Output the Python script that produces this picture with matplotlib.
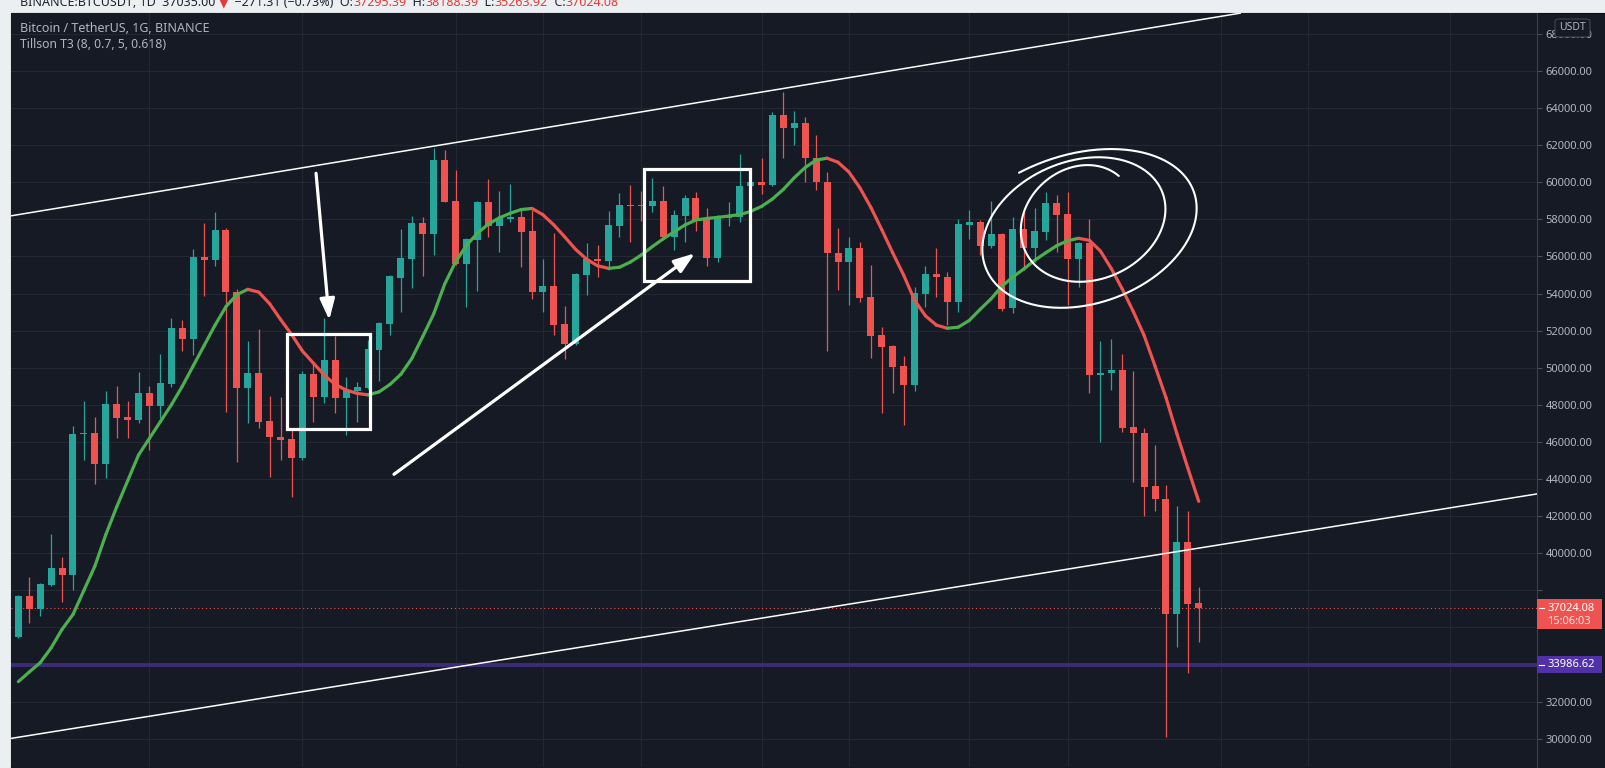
import numpy as np
import matplotlib
matplotlib.use('Agg')
import matplotlib.pyplot as plt
from matplotlib.patches import Rectangle, FancyBboxPatch
from matplotlib.collections import LineCollection
from matplotlib.transforms import IdentityTransform

plt.rcParams['font.family'] = ['Noto Sans', 'DejaVu Sans']

# daily candles, BTC/USDT
opens = [35505, 37698, 36979, 38290, 39225, 38830, 46431, 46467, 44814, 48030,
         47329, 47186, 48659, 47940, 49127, 52127, 51552, 55955, 55811, 57429,
         54104, 48929, 49737, 47132, 46287, 46143, 45119, 49665, 48443, 50420,
         48389, 48748, 48928, 50959, 52360, 54858, 55882, 57823, 57212, 61202,
         58991, 55595, 56889, 58955, 57644, 58003, 58111, 57392, 54104, 54409,
         52361, 51282, 55002, 55865, 55775, 57644, 58776, 58760, 58722, 58991,
         57033, 58183, 59135, 58057, 55936, 58093, 58147, 59782, 59998, 59854,
         63628, 62945, 63178, 61327, 59998, 56170, 55685, 56440, 53834, 51767,
         51192, 50096, 49072, 53978, 55038, 54876, 53564, 57698, 57842, 56566,
         57194, 53241, 57464, 56440, 57338, 58866, 58291, 55847, 56709, 49593,
         49701, 49881, 46790, 46466, 43627, 42908, 36727, 40608, 37302]
highs = [37752, 38740, 38380, 41040, 39818, 46862, 48210, 47329, 48749, 49019,
         48210, 49771, 49019, 50726, 52667, 52577, 56386, 57788, 58417, 57519,
         54230, 51445, 52073, 48479, 48444, 46682, 49845, 50240, 52666, 51713,
         49485, 49252, 51498, 52486, 54984, 57464, 58183, 58111, 61831, 61741,
         60663, 56979, 59009, 60160, 59549, 59908, 58506, 58506, 55847, 57248,
         53331, 55128, 56709, 56619, 58470, 59441, 59854, 59549, 60213, 59800,
         58506, 59315, 59495, 58632, 58237, 58956, 61507, 60050, 61291, 63771,
         64850, 63843, 63538, 62549, 60537, 57554, 57068, 56799, 55541, 52217,
         51228, 50635, 54373, 55487, 56440, 55182, 58003, 58506, 57967, 58992,
         57248, 58111, 58416, 58596, 59494, 59315, 59494, 56799, 58003, 51462,
         51552, 50743, 49827, 46736, 45837, 43681, 42549, 42298, 38200]
lows = [35415, 36224, 36619, 38236, 37392, 38021, 45014, 43735, 44041, 46198,
        46198, 47006, 45569, 47276, 48983, 50906, 50690, 53871, 55488, 47635,
        44940, 47042, 46736, 44131, 45030, 43053, 45029, 47095, 48120, 47544,
        46376, 47095, 48838, 49306, 51767, 53025, 54283, 54948, 56080, 58955,
        55541, 53295, 54140, 57033, 56260, 57877, 55451, 53690, 53026, 51768,
        50455, 51228, 53924, 54912, 55272, 57069, 56799, 57931, 58417, 56979,
        56350, 56799, 57392, 55505, 55721, 57662, 57877, 59750, 59351, 59818,
        61291, 62010, 60000, 59584, 50905, 54193, 53385, 53564, 50546, 47544,
        48623, 46916, 48767, 53259, 53834, 52307, 53026, 56925, 56081, 56440,
        53079, 52936, 55272, 55721, 56889, 56260, 53385, 54373, 48623, 46017,
        48802, 46556, 43861, 42028, 42298, 30100, 34929, 33564, 35235]
closes = [37698, 36979, 38326, 39225, 38830, 46431, 46450, 44814, 48030, 47294,
          47186, 48659, 47940, 49198, 52127, 51552, 55955, 55811, 57429, 54104,
          48929, 49737, 47096, 46287, 46108, 45155, 49665, 48443, 50420, 48389,
          48802, 48946, 50995, 52432, 54948, 55936, 57823, 57212, 61202, 58955,
          55595, 56943, 58955, 57644, 58057, 58111, 57338, 54104, 54409, 52307,
          51282, 55056, 55847, 55775, 57698, 58776, 58740, 58740, 58991, 57033,
          58237, 59135, 57967, 55936, 58093, 58237, 59800, 59998, 59854, 63628,
          62945, 63178, 61327, 59998, 56170, 55685, 56440, 53780, 51731, 51138,
          50060, 49072, 54014, 55038, 54876, 53564, 57751, 57842, 56566, 57194,
          53151, 57482, 56440, 57374, 58866, 58237, 55847, 56709, 49611, 49737,
          49881, 46736, 46466, 43591, 42908, 36727, 40608, 37266, 37024.08]

# Tillson T3 (8, 0.7) read per bar
t3 = [33080, 33600, 34100, 34900, 35900, 36700, 38000, 39300, 41000, 42500,
      43900, 45300, 46200, 47100, 48000, 49000, 50100, 51200, 52300, 53300,
      53950, 54230, 54080, 53450, 52600, 51800, 50900, 50250, 49600, 49100,
      48800, 48620, 48540, 48700, 49100, 49650, 50500, 51680, 52900, 54500,
      55700, 56600, 57250, 57750, 58080, 58330, 58530, 58590, 58250, 57700,
      57050, 56380, 55850, 55500, 55360, 55420, 55700, 56080, 56530, 56950,
      57330, 57700, 57970, 58050, 58110, 58180, 58260, 58430, 58700, 59100,
      59620, 60250, 60800, 61200, 61300, 61080, 60550, 59700, 58650, 57450,
      56200, 55000, 53650, 52800, 52300, 52130, 52190, 52550, 53150, 53720,
      54400, 54900, 55330, 55800, 56200, 56580, 56850, 56980, 56870, 56300,
      55350, 54250, 53050, 51750, 50100, 48400, 46450, 44600, 42800]

last_price = 37024.08
countdown = "15:06:03"
level_price = 33986.62
price_ticks = list(range(30000, 68001, 2000))
period_bars = [12, 26, 40, 48, 57, 68, 76, 87, 96, 110, 118, 131]

title = "Bitcoin / TetherUS, 1G, BINANCE"
indicator = "Tillson T3 (8, 0.7, 5, 0.618)"
header = [("BINANCE:BTCUSDT, 1D  37035.00 ", 'dark'), ("▼", 'red'),
          ("  −271.31 (−0.73%)  O:", 'dark'), ("37295.39", 'red'),
          ("  H:", 'dark'), ("38188.39", 'red'), ("  L:", 'dark'),
          ("35263.92", 'red'), ("  C:", 'dark'), ("37024.08", 'red')]

# user drawings, anchored at (bar, price)
upper_channel = [(-0.6, 58199), (111.8, 69119)]
lower_channel = [(-0.6, 30026), (139.0, 43205)]
box_a = [(24.6, 46684), (32.18, 51822)]
box_b = [(57.25, 54679), (66.94, 60700)]
arrow_down = [(27.24, 60485), (28.45, 52576)]
arrow_up = [(34.37, 44258), (61.9, 56172)]
scribble_center = (97.75, 58180)

W, H, DPI = 1605, 768, 100
BG = '#161a25'
GRID = '#242833'
TXT = '#b2b5be'
GREEN = '#26a69a'
RED = '#ef5350'
T3_UP = '#4caf50'
T3_DN = '#ef5350'
PURPLE_LINE = '#3b2b78'
PURPLE_BOX = '#5131a8'

fig = plt.figure(figsize=(W / DPI, H / DPI), dpi=DPI, facecolor='#eceff2')
fig.add_artist(Rectangle((11 / W, 0), 1 - 11 / W, (H - 12.7) / H,
                         transform=fig.transFigure, facecolor=BG,
                         edgecolor='#0a0c10', lw=0.8, zorder=-5))
ax = fig.add_axes([11 / W, 1 / H, 1526 / W, 754.3 / H])
ax.set_facecolor(BG)
ax.set_xlim(-0.67, 138.95)
ax.set_ylim(28479, 69143)

for s in ['top', 'bottom', 'left']:
    ax.spines[s].set_visible(False)
ax.spines['right'].set_color('#3b3f4a')
ax.spines['right'].set_linewidth(0.8)

# scale labels hidden behind the price badges, as on the chart
tick_labels = ["" if min(abs(v - last_price), abs(v - level_price)) < 1100 else "%.2f" % v
               for v in price_ticks]
ax.yaxis.tick_right()
ax.set_yticks(price_ticks)
ax.set_yticklabels(tick_labels)
ax.set_xticks(period_bars)
ax.tick_params(axis='x', length=0, labelbottom=False)
ax.tick_params(axis='y', length=3.6, width=0.8, color='#4a4e58',
               labelcolor=TXT, labelsize=8, pad=2.6)
ax.grid(True, color=GRID, lw=0.8, zorder=0)
ax.set_axisbelow(True)

# horizontal levels
ax.axhline(level_price, color=PURPLE_LINE, lw=2.8, zorder=2)
ax.axhline(last_price, color=RED, lw=0.8, ls=(0, (1, 2.5)), zorder=2)

# candles
idx = np.arange(len(opens))
o = np.array(opens, float)
c = np.array(closes, float)
up = c >= o
cols = np.where(up, GREEN, RED)
ax.vlines(idx, lows, highs, colors=cols, lw=0.9, zorder=3)
body_lo = np.minimum(o, c)
body_h = np.maximum(np.abs(c - o), 60)
ax.bar(idx, body_h, bottom=body_lo, width=0.64, color=cols, lw=0, zorder=4)

# Tillson T3 coloured by slope
t3a = np.array(t3, float)
pts = np.column_stack([idx, t3a])
segs = np.stack([pts[:-1], pts[1:]], axis=1)
seg_cols = [T3_UP if t3a[k + 1] >= t3a[k] else T3_DN for k in range(len(t3a) - 1)]
ax.add_collection(LineCollection(segs, colors=seg_cols, linewidths=2.3,
                                 capstyle='round', joinstyle='round', zorder=5))

# drawings
for line in (upper_channel, lower_channel):
    (x0, y0), (x1, y1) = line
    ax.plot([x0, x1], [y0, y1], color='white', lw=1.1, zorder=6)

for (x0, y0), (x1, y1) in (box_a, box_b):
    ax.add_patch(Rectangle((x0, y0), x1 - x0, y1 - y0, fill=False,
                           edgecolor='white', lw=2.3, zorder=6))

for (x0, y0), (x1, y1) in (arrow_down, arrow_up):
    ax.annotate('', xy=(x1, y1), xytext=(x0, y0),
                arrowprops=dict(arrowstyle='-|>,head_length=0.9,head_width=0.32',
                                color='white', lw=2.3, shrinkA=0, shrinkB=0,
                                mutation_scale=14), zorder=6)

# hand-drawn spiral around the last top
cx, cy = ax.transData.transform(scribble_center)
th = np.linspace(0.6, 0.6 + 2.2 * 2 * np.pi, 700)
s = (th - th[0]) / (th[-1] - th[0])
a = 52 + 80 * s
b = 50 + 32 * s
phi = np.radians(18)
xr = a * np.cos(th)
yr = b * np.sin(th)
sx = cx - 8 * s + xr * np.cos(phi) - yr * np.sin(phi)
sy = cy - 20 * s + xr * np.sin(phi) + yr * np.cos(phi)
ax.plot(sx, sy, color='white', lw=1.5, transform=IdentityTransform(), zorder=6,
        solid_capstyle='round')

# price scale badges
_, y_last = ax.transData.transform((0, last_price))
_, y_lvl = ax.transData.transform((0, level_price))
fig.add_artist(Rectangle((1537 / W, (y_last - 21) / H), 65 / W, 30.5 / H,
                         transform=fig.transFigure, facecolor=RED, lw=0, zorder=10))
fig.text(1547 / W, y_last / H, "%.2f" % last_price, color='white', fontsize=8,
         fontweight='semibold', va='center', ha='left', zorder=11)
fig.text(1547 / W, (y_last - 13.5) / H, countdown, color='#fbe3e3', fontsize=8,
         va='center', ha='left', zorder=11)
fig.add_artist(Rectangle((1537 / W, (y_lvl - 8.5) / H), 65 / W, 17 / H,
                         transform=fig.transFigure, facecolor=PURPLE_BOX, lw=0, zorder=10))
fig.text(1547 / W, y_lvl / H, "%.2f" % level_price, color='white', fontsize=8,
         fontweight='semibold', va='center', ha='left', zorder=11)
for yy in (y_last, y_lvl):
    fig.add_artist(plt.Line2D([1539 / W, 1544 / W], [yy / H, yy / H], color='white',
                              lw=0.8, transform=fig.transFigure, zorder=12))

fig.add_artist(FancyBboxPatch((1555 / W, (H - 37) / H), 35 / W, 18 / H,
                              boxstyle='round,pad=0,rounding_size=0.003',
                              transform=fig.transFigure, facecolor=BG,
                              edgecolor='#434651', lw=0.8, zorder=10))
fig.text(1572.5 / W, (H - 28) / H, "USDT", color=TXT, fontsize=7.5,
         ha='center', va='center', zorder=11)

# legend text
fig.text(20 / W, 1 - 29 / H, title, color=TXT, fontsize=9,
         fontweight='semibold', va='center', ha='left')
fig.text(20 / W, 1 - 45 / H, indicator, color=TXT, fontsize=8.8,
         va='center', ha='left')

# cut-off header on top
renderer = fig.canvas.get_renderer()
xpos = 20
for txt, kind in header:
    t = fig.text(xpos / W, 1 - 2.5 / H, txt, fontsize=9, va='center', ha='left',
                 color='#1e222d' if kind == 'dark' else '#e53935')
    xpos = t.get_window_extent(renderer).x1

fig.savefig('out.png', dpi=DPI, facecolor=fig.get_facecolor())
